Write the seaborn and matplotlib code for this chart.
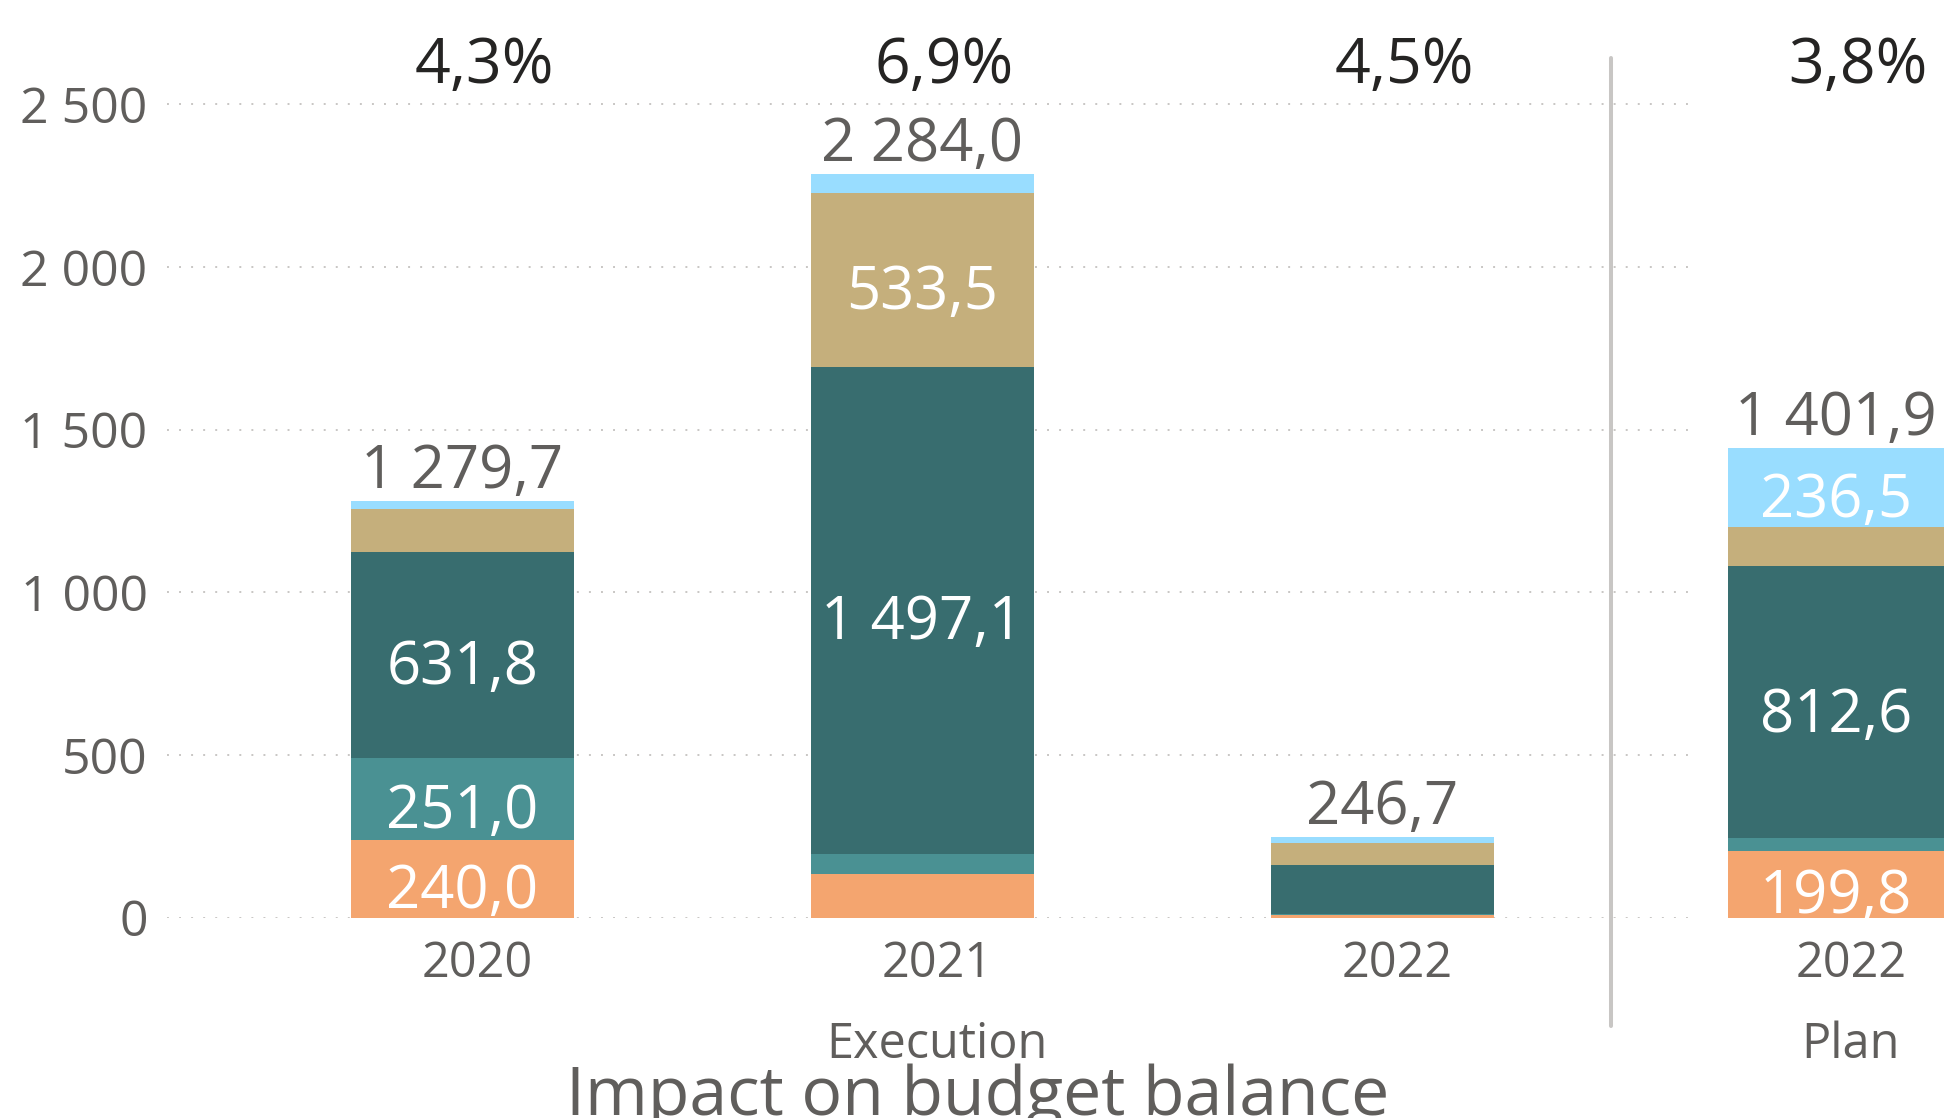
import numpy as np
import pandas as pd
import matplotlib
matplotlib.use("Agg")
import matplotlib.pyplot as plt
import matplotlib.transforms as mtransforms
from matplotlib.lines import Line2D
import seaborn as sns

# --- data ---
years_exec = ["2020", "2021", "2022"]
orange_exec = [240.0, 133.0, 8.0]
teal_exec = [251.0, 63.4, 3.0]
dark_exec = [631.8, 1497.1, 151.0]
beige_exec = [133.0, 533.5, 67.5]
blue_exec = [23.9, 57.0, 17.2]
total_exec = [1279.7, 2284.0, 246.7]
pct_exec = ["4,3%", "6,9%", "4,5%"]

years_plan = ["2022"]
orange_plan = [199.8]
teal_plan = [36.6]
dark_plan = [812.6]
beige_plan = [116.4]
blue_plan = [236.5]
total_plan = [1401.9]
pct_plan = ["3,8%"]

segments = ["orange", "teal", "dark", "beige", "blue"]
colors = {"orange": "#F4A56F", "teal": "#4A9193", "dark": "#386D6F",
          "beige": "#C5AF7C", "blue": "#99DDFF"}

GREY = "#605E5C"
BLACK = "#252423"
W, H, DPI = 1953, 1118, 100


def fmt(v):
    return f"{v:,.1f}".replace(",", " ").replace(".", ",")


def make_df(years, layers):
    rows = []
    for seg, vals in zip(segments, layers):
        for y, v in zip(years, vals):
            rows.append({"year": y, "segment": seg, "value": v})
    return pd.DataFrame(rows)


df_exec = make_df(years_exec, [orange_exec, teal_exec, dark_exec, beige_exec, blue_exec])
df_plan = make_df(years_plan, [orange_plan, teal_plan, dark_plan, beige_plan, blue_plan])

sns.set_theme(style="white")
plt.rcParams["font.family"] = ["Open Sans", "DejaVu Sans"]

fig = plt.figure(figsize=(W / DPI, H / DPI), dpi=DPI)


def px_axes(x0, x1, ytop, ybot):
    return fig.add_axes([x0 / W, 1 - ybot / H, (x1 - x0) / W, (ybot - ytop) / H])


def stacked(ax, df, years, width):
    wide = df.pivot(index="year", columns="segment", values="value").loc[years, segments]
    cum = wide.cumsum(axis=1)
    # tallest layer first, smaller cumulative bars drawn on top
    for seg in reversed(segments):
        sns.barplot(x=years, y=cum[seg].values, color=colors[seg], saturation=1,
                    width=width, errorbar=None, linewidth=0, ax=ax)
    for i, y in enumerate(years):
        for seg in segments:
            v = wide.loc[y, seg]
            if v >= 190:
                ax.annotate(fmt(v), (i, cum.loc[y, seg] - v / 2), xytext=(0, -4.5),
                            textcoords="offset points", color="white", fontsize=43,
                            ha="center", va="center_baseline")


def finish(ax, years, totals, pcts, xlim, ylim):
    ax.set_xlim(*xlim)
    ax.set_ylim(*ylim)
    ax.set_xlabel("")
    ax.set_ylabel("")
    ax.patch.set_alpha(0)
    sns.despine(ax=ax, left=True, bottom=True)
    ax.set_xticks(range(len(years)))
    ax.set_xticklabels(years, fontsize=35, color=GREY)
    ax.tick_params(axis="x", length=0, pad=16)
    shift = mtransforms.ScaledTranslation(15 / DPI, 0, fig.dpi_scale_trans)
    for lab in ax.get_xticklabels():
        lab.set_transform(lab.get_transform() + shift)
    for i, t in enumerate(totals):
        ax.annotate(fmt(t), (i, t), xytext=(0, 9.5), textcoords="offset points",
                    ha="center", va="baseline", fontsize=43, color=GREY)
    blend = mtransforms.blended_transform_factory(ax.transData, fig.transFigure)
    pshift = mtransforms.ScaledTranslation(22 / DPI, 0, fig.dpi_scale_trans)
    for i, p in enumerate(pcts):
        ax.text(i, 1 - 83 / H, p, transform=blend + pshift, ha="center", va="baseline",
                fontsize=45, color=BLACK)


# execution visual
ax = px_axes(167, 1698, 58, 917.7)
stacked(ax, df_exec, years_exec, 0.485)
finish(ax, years_exec, total_exec, pct_exec, (-0.642, 2.686), (0, 2642))
ticks = [0, 500, 1000, 1500, 2000, 2500]
ax.set_yticks(ticks)
ax.set_yticklabels([f"{t:,}".replace(",", " ") for t in ticks], fontsize=36, color=GREY)
ax.tick_params(axis="y", length=0, pad=14)
ax.yaxis.grid(True, color="#C8C6C4", linewidth=1.4, linestyle=(0, (1, 5.2)))
ax.set_axisbelow(True)

# plan visual
ax2 = px_axes(1612, 1953, 58, 917.7)
stacked(ax2, df_plan, years_plan, 0.47)
finish(ax2, years_plan, total_plan, pct_plan, (-0.487, 0.254), (0, 2566))
ax2.set_yticks([])
ax2.grid(False)

# divider between the two visuals
fig.add_artist(Line2D([1611 / W, 1611 / W], [1 - 58 / H, 1 - 1026 / H],
                      color="#C8C6C4", linewidth=2.9, transform=fig.transFigure))

fig.text(937 / W, 1 - 1058 / H, "Execution", ha="center", va="baseline", fontsize=35, color=GREY)
fig.text(1851 / W, 1 - 1058 / H, "Plan", ha="center", va="baseline", fontsize=35, color=GREY)
fig.text(978 / W, 1 - 1115 / H, "Impact on budget balance", ha="center", va="baseline",
         fontsize=49, color=GREY)

fig.savefig("out.png", dpi=DPI)
